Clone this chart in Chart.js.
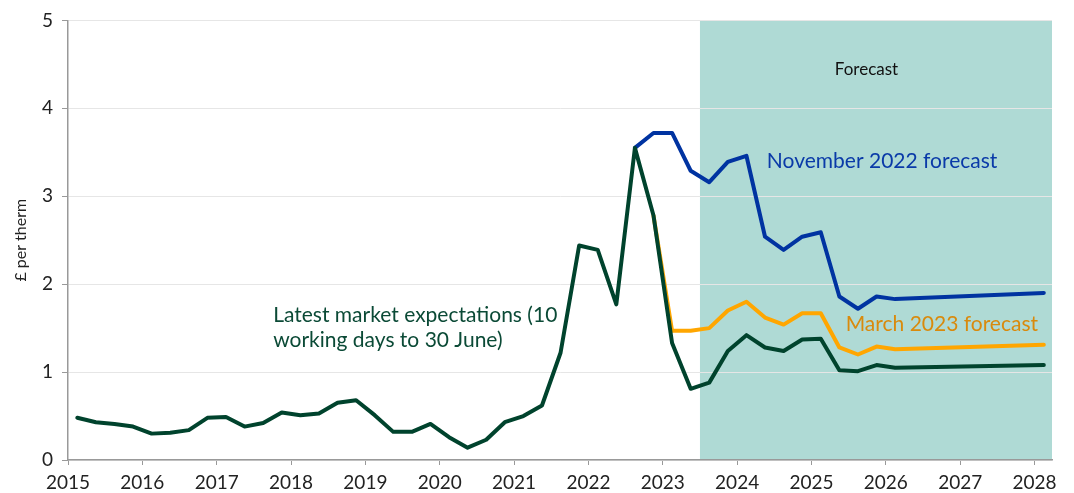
<!DOCTYPE html>
<html>
<head>
<meta charset="utf-8">
<script src="https://cdn.jsdelivr.net/npm/chart.js@4.4.0/dist/chart.umd.min.js"></script>
<style>
  html, body { margin: 0; padding: 0; background: #fff; }
  #wrap { width: 1074px; height: 493px; }
</style>
</head>
<body>
<div id="wrap"><canvas id="graphe"></canvas></div>
<script>
// quarters shown on the chart, 2015 Q1 to 2028 Q1
var quarters = [];
for (var y = 2015; y <= 2028; y++) {
    for (var q = 1; q <= 4; q++) {
        if (y == 2028 && q > 1) break;
        quarters.push(y + " Q" + q);
    }
}
var yearTicks = [2015, 2016, 2017, 2018, 2019, 2020, 2021, 2022, 2023, 2024, 2025, 2026, 2027, 2028];

// £ per therm, null where the line just runs straight on
var latestMarket = [
    0.48, 0.43, 0.41, 0.38,
    0.30, 0.31, 0.34, 0.48,
    0.49, 0.38, 0.42, 0.54,
    0.51, 0.53, 0.65, 0.68,
    0.51, 0.32, 0.32, 0.41,
    0.26, 0.14, 0.23, 0.43,
    0.50, 0.62, 1.22, 2.44,
    2.39, 1.77, 3.55, 2.78,
    1.33, 0.81, 0.88, 1.24,
    1.42, 1.28, 1.24, 1.37,
    1.38, 1.02, 1.01, 1.08,
    1.05, null, null, null,
    null, null, null, null,
    1.08
];
var november2022 = [
    null, null, null, null, null, null, null, null, null, null,
    null, null, null, null, null, null, null, null, null, null,
    null, null, null, null, null, null, null, null, null, null,
    3.55, 3.72,
    3.72, 3.29, 3.16, 3.39,
    3.46, 2.54, 2.39, 2.54,
    2.59, 1.86, 1.72, 1.86,
    1.83, null, null, null,
    null, null, null, null,
    1.90
];
var march2023 = [
    null, null, null, null, null, null, null, null, null, null,
    null, null, null, null, null, null, null, null, null, null,
    null, null, null, null, null, null, null, null, null, null,
    null, 2.78,
    1.47, 1.47, 1.50, 1.70,
    1.80, 1.62, 1.54, 1.67,
    1.67, 1.28, 1.20, 1.29,
    1.26, null, null, null,
    null, null, null, null,
    1.31
];
var forecastStart = 2023.5;

// quarter label -> position on the year axis (middle of the quarter)
function quarterToX(label) {
    var parts = label.split(" Q");
    return parseInt(parts[0]) + (parseInt(parts[1]) - 0.5) / 4;
}
function toPoints(values) {
    var pts = [];
    for (var i = 0; i < quarters.length; i++) {
        pts.push({x: quarterToX(quarters[i]), y: values[i]});
    }
    return pts;
}

var FONT = "Lato, 'DejaVu Sans', sans-serif";

//shaded forecast area, drawn before the grid
var forecastShade = {
    id: 'forecastShade',
    beforeDraw: function(chart) {
        var ctx = chart.ctx, area = chart.chartArea;
        var x0 = chart.scales.x.getPixelForValue(forecastStart);
        ctx.save();
        ctx.fillStyle = '#afdad5';
        ctx.fillRect(x0, area.top, area.right - x0, area.bottom - area.top);
        ctx.restore();
    }
};

//text labels placed in data coordinates
var labels = [
    {lines: ["Forecast"], x: 2025.74, y: 4.44, color: '#111111', size: 17, align: 'center'},
    {lines: ["November 2022 forecast"], x: 2024.4, y: 3.4, color: '#0a3aa8', size: 21, align: 'left'},
    {lines: ["March 2023 forecast"], x: 2025.46, y: 1.54, color: '#d98a0c', size: 21, align: 'left'},
    {lines: ["Latest market expectations (10", "working days to 30 June)"], x: 2017.76, y: 1.65, color: '#0b4a36', size: 21, align: 'left'}
];
var textLabels = {
    id: 'textLabels',
    afterDatasetsDraw: function(chart) {
        var ctx = chart.ctx;
        ctx.save();
        labels.forEach(function(l) {
            ctx.font = l.size + "px " + FONT;
            ctx.fillStyle = l.color;
            ctx.textAlign = l.align;
            ctx.textBaseline = 'middle';
            var px = chart.scales.x.getPixelForValue(l.x);
            var py = chart.scales.y.getPixelForValue(l.y);
            l.lines.forEach(function(t, i) {
                ctx.fillText(t, px, py + i * 25);
            });
        });
        ctx.restore();
    }
};

function insertGraph() {
    var ctx = document.getElementById('graphe').getContext('2d');
    new Chart(ctx, {
        type: 'line',
        data: {
            datasets: [{
                label: "Latest market expectations (10 working days to 30 June)",
                data: toPoints(latestMarket),
                borderColor: '#00432d',
                borderWidth: 4
            },
            {
                label: "November 2022 forecast",
                data: toPoints(november2022),
                borderColor: '#0033a1',
                borderWidth: 4
            },
            {
                label: "March 2023 forecast",
                data: toPoints(march2023),
                borderColor: '#ffa600',
                borderWidth: 4
            }]
        },
        options: {
            responsive: true,
            maintainAspectRatio: false,
            animation: false,
            spanGaps: true,
            elements: {
                point: {radius: 0},
                line: {tension: 0, borderJoinStyle: 'round', borderCapStyle: 'round'}
            },
            layout: {padding: {top: 17, right: 22, left: 0, bottom: 0}},
            plugins: {legend: {display: false}, tooltip: {enabled: false}},
            scales: {
                x: {
                    type: 'linear',
                    min: 2015,
                    max: 2028.235,
                    afterFit: function(scale) { scale.height = 33; },
                    afterBuildTicks: function(scale) {
                        scale.ticks = yearTicks.map(function(v) { return {value: v}; });
                    },
                    ticks: {
                        callback: function(v) { return String(v); },
                        color: '#222',
                        font: {family: FONT, size: 19},
                        padding: 6,
                        maxRotation: 0,
                        autoSkip: false
                    },
                    grid: {drawOnChartArea: false, drawTicks: true, tickLength: 5, tickColor: '#999'},
                    border: {color: '#999', width: 1.5}
                },
                y: {
                    min: 0,
                    max: 5,
                    afterFit: function(scale) { scale.width = 68; },
                    ticks: {
                        stepSize: 1,
                        color: '#222',
                        font: {family: FONT, size: 19},
                        padding: 9
                    },
                    grid: {color: '#e6e6e6', tickLength: 6, tickColor: '#999'},
                    border: {color: '#999', width: 1.5},
                    title: {
                        display: true,
                        text: '£ per therm',
                        color: '#222',
                        font: {family: FONT, size: 16},
                        padding: {top: 11, bottom: 0}
                    }
                }
            }
        },
        plugins: [forecastShade, textLabels]
    });
}
insertGraph();
</script>
</body>
</html>
